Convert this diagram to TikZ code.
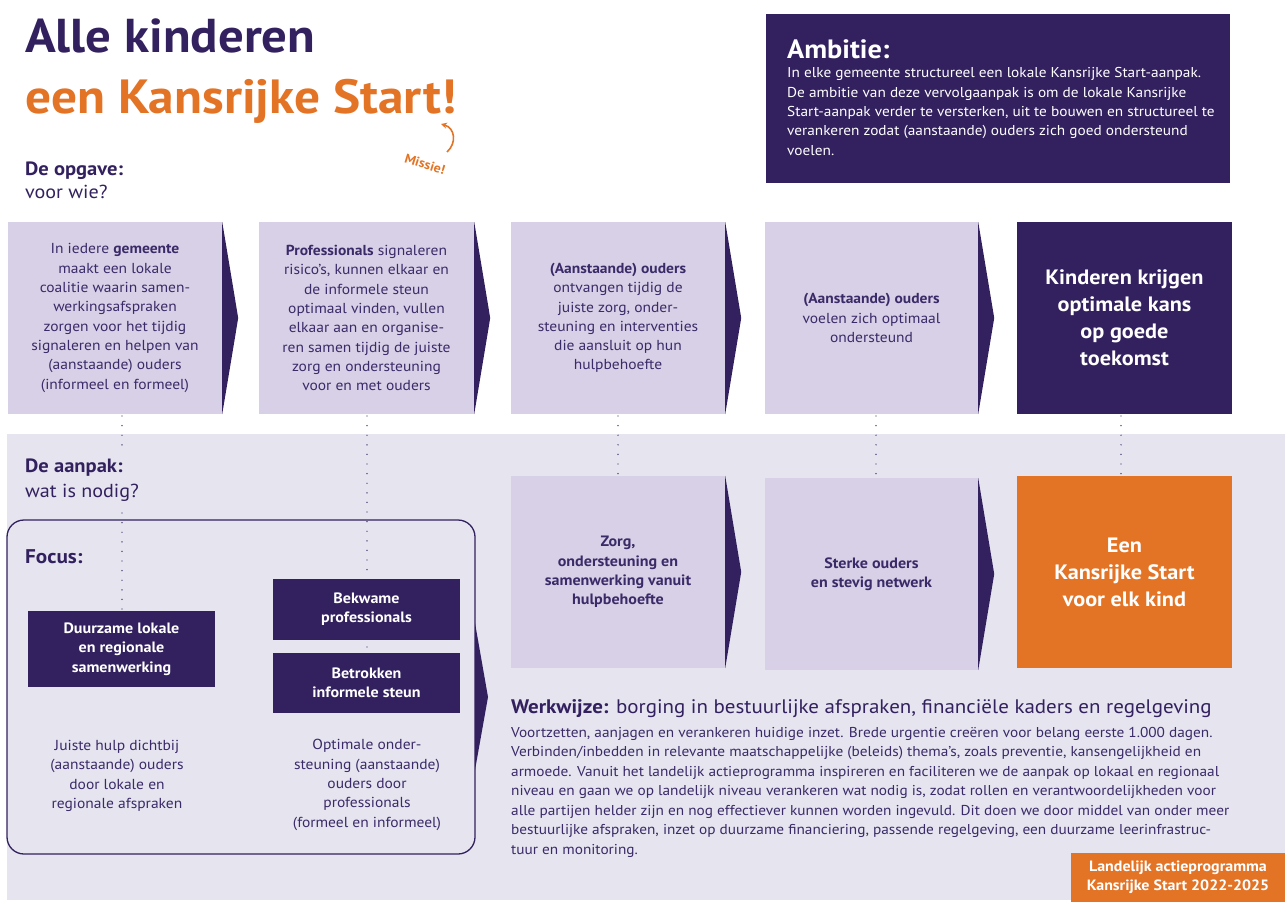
\documentclass[tikz,border=0pt]{standalone}
\usepackage{fontspec}
\setmainfont[FakeStretch=1.07]{PT Sans}
\usetikzlibrary{calc,arrows.meta}
\definecolor{dk}{RGB}{50,33,94}
\definecolor{txt}{RGB}{58,42,104}
\definecolor{lb}{RGB}{216,208,230}
\definecolor{band}{RGB}{229,228,239}
\definecolor{org}{RGB}{227,116,38}
\newcommand\myfs[2]{\fontsize{#1}{#2}\selectfont}
\tikzset{
  lbox/.style={fill=lb, inner sep=0pt, minimum height=192pt, align=center, text=txt, font=\myfs{14.5}{19.3}},
  dbox/.style={fill=dk, inner sep=0pt, align=center, text=white, font=\bfseries\myfs{15}{19.3}},
  bigbox/.style={inner sep=0pt, minimum height=192pt, minimum width=215pt, align=center, text=white, font=\bfseries\myfs{20.8}{27}},
  chev/.style={fill=dk},
  dots/.style={draw=dk, line width=1.4pt, line cap=round, dash pattern=on 0pt off 9.6pt},
  head/.style={anchor=base west, inner sep=0pt, text=dk, font=\bfseries\myfs{19.2}{22}},
  sub/.style={anchor=base west, inner sep=0pt, text=dk, font=\myfs{18.8}{22}},
  plain/.style={inner sep=0pt, align=center, text=txt, font=\myfs{14.5}{19.3}},
}
\begin{document}
\begin{tikzpicture}[x=1pt,y=-1pt]
\useasboundingbox (0,0) rectangle (1285,902);
\fill[white] (0,0) rectangle (1285,902);
% band
\fill[band] (7,434) rectangle (1285,900);

% title
\node[anchor=base west, inner sep=0pt, text=dk, font=\bfseries\myfs{47.5}{56}] (t1) at (25,52) {Alle kinderen};
\node[anchor=base west, inner sep=0pt, text=org, font=\bfseries\myfs{48}{56}] (t2) at (25,113) {een Kansrijke Start!};
\node[rotate=-17, inner sep=0pt, text=org, font=\bfseries\myfs{13}{15}] (mis) at (425,164) {Missie!};
\coordinate (ma) at (447,152);
\coordinate (mb) at (441,124);
\draw[org, line width=1.6pt, -{Stealth[length=6pt,width=6pt]}] (ma) .. controls (457,143) and (455,128) .. (mb);

\node[head] (op1) at (25,175) {De opgave:};
\node[sub] (op2) at (25,198) {voor wie?};

% ambitie
\fill[dk] (766,14) rectangle (1230,183);
\node[anchor=base west, inner sep=0pt, text=white, font=\bfseries\myfs{26.5}{30}] (amb) at (787,58) {Ambitie:};
\node[anchor=north west, inner sep=0pt, align=left, text=white, font=\myfs{14.3}{19.3}] (ambt) at (787,67.5)
 {In elke gemeente structureel een lokale Kansrijke Start-aanpak.\\
  De ambitie van deze vervolgaanpak is om de lokale Kansrijke\\
  Start-aanpak verder te versterken, uit te bouwen en structureel te\\
  verankeren zodat (aanstaande) ouders zich goed ondersteund\\
  voelen.};

% top row
\node[lbox, minimum width=214pt] (b1) at (115,318)
 {In iedere \textbf{gemeente}\\ maakt een lokale\\ coalitie waarin samen-\\ werkingsafspraken\\ zorgen voor het tijdig\\ signaleren en helpen van\\ (aanstaande) ouders\\ (informeel en formeel)};
\node[lbox, minimum width=215pt] (b2) at (366.5,318)
 {\textbf{Professionals} signaleren\\ risico’s, kunnen elkaar en\\ de informele steun\\ optimaal vinden, vullen\\ elkaar aan en organise-\\ ren samen tijdig de juiste\\ zorg en ondersteuning\\ voor en met ouders};
\node[lbox, minimum width=214pt] (b3) at (618,318)
 {\textbf{(Aanstaande) ouders}\\ ontvangen tijdig de\\ juiste zorg, onder-\\ steuning en interventies\\ die aansluit op hun\\ hulpbehoefte};
\node[lbox, minimum width=213pt] (b4) at (871.5,318)
 {\textbf{(Aanstaande) ouders}\\ voelen zich optimaal\\ ondersteund};
\node[bigbox, fill=dk] (b5) at (1124.5,318)
 {Kinderen krijgen\\ optimale kans\\ op goede\\ toekomst};
\foreach \n in {b1,b2,b3,b4}
  \fill[chev] (\n.north east) -- ($(\n.east)+(16,0)$) -- (\n.south east) -- cycle;

% bottom row
\node[lbox, minimum width=214pt, font=\bfseries\myfs{15}{19.3}] (c1) at (618,572)
 {Zorg,\\ ondersteuning en\\ samenwerking vanuit\\ hulpbehoefte};
\node[lbox, minimum width=213pt, font=\bfseries\myfs{15}{19.3}] (c2) at (871.5,574)
 {Sterke ouders\\ en stevig netwerk};
\node[bigbox, fill=org] (c3) at (1124.5,572)
 {Een\\ Kansrijke Start\\ voor elk kind};
\foreach \n in {c1,c2}
  \fill[chev] (\n.north east) -- ($(\n.east)+(16,0)$) -- (\n.south east) -- cycle;

% aanpak
\node[head] (ap1) at (25,472) {De aanpak:};
\node[sub] (ap2) at (25,497) {wat is nodig?};

% focus box
\draw[dk, line width=1.3pt, rounded corners=17pt] (7,520) rectangle (475,854);
\coordinate (fa) at (475,623);
\coordinate (fb) at (488,697);
\coordinate (fc) at (475,770);
\fill[chev] (fa) -- (fb) -- (fc) -- cycle;
\node[anchor=base west, inner sep=0pt, text=dk, font=\bfseries\myfs{19.8}{22}] (foc) at (25,563) {Focus:};

\node[dbox, minimum width=187pt, minimum height=76pt] (f1) at (121.5,649) {Duurzame lokale\\ en regionale\\ samenwerking};
\node[dbox, minimum width=187pt, minimum height=61pt] (f2) at (366.5,609.5) {Bekwame\\ professionals};
\node[dbox, minimum width=187pt, minimum height=60pt] (f3) at (366.5,683) {Betrokken\\ informele steun};

\node[plain] (j1) at (117,776) {Juiste hulp dichtbij\\ (aanstaande) ouders\\ door lokale en\\ regionale afspraken};
\node[plain] (j2) at (367,785) {Optimale onder-\\ steuning (aanstaande)\\ ouders door\\ professionals\\ (formeel en informeel)};

% dotted connectors
\coordinate (d1a) at (122,416);
\coordinate (d1b) at (122,450);
\coordinate (d1c) at (122,513);
\draw[dots] (d1a) -- (d1b);
\draw[dots] (d1c) -- (f1.north -| d1c);
\coordinate (d2a) at (367,416);
\draw[dots] (d2a) -- (f2.north -| d2a);
\coordinate (d2m) at (367,647);
\fill[dk] (d2m) circle (0.7pt);
\coordinate (d3a) at (618,416);
\draw[dots] (d3a) -- (c1.north -| d3a);
\coordinate (d4a) at (876,416);
\draw[dots] (d4a) -- (c2.north -| d4a);
\coordinate (d5a) at (1121,416);
\draw[dots] (d5a) -- (c3.north -| d5a);

% werkwijze
\node[anchor=base west, inner sep=0pt, text=dk, font=\myfs{19.6}{24}] (ww) at (511,713)
 {\textbf{Werkwijze:} borging in bestuurlijke afspraken, financiële kaders en regelgeving};
\node[anchor=north west, inner sep=0pt, align=left, text=txt, font=\myfs{14.3}{19.5}] (wwt) at (511,727)
 {Voortzetten, aanjagen en verankeren huidige inzet. Brede urgentie creëren voor belang eerste 1.000 dagen.\\
  Verbinden/inbedden in relevante maatschappelijke (beleids) thema’s, zoals preventie, kansengelijkheid en\\
  armoede. Vanuit het landelijk actieprogramma inspireren en faciliteren we de aanpak op lokaal en regionaal\\
  niveau en gaan we op landelijk niveau verankeren wat nodig is, zodat rollen en verantwoordelijkheden voor\\
  alle partijen helder zijn en nog effectiever kunnen worden ingevuld. Dit doen we door middel van onder meer\\
  bestuurlijke afspraken, inzet op duurzame financiering, passende regelgeving, een duurzame leerinfrastruc-\\
  tuur en monitoring.};

% label
\node[fill=org, minimum width=214pt, minimum height=49pt, inner sep=0pt, align=center, text=white, font=\bfseries\myfs{14.9}{19}] (lab) at (1178,877.5)
 {Landelijk actieprogramma\\ Kansrijke Start 2022-2025};
\end{tikzpicture}
\end{document}
